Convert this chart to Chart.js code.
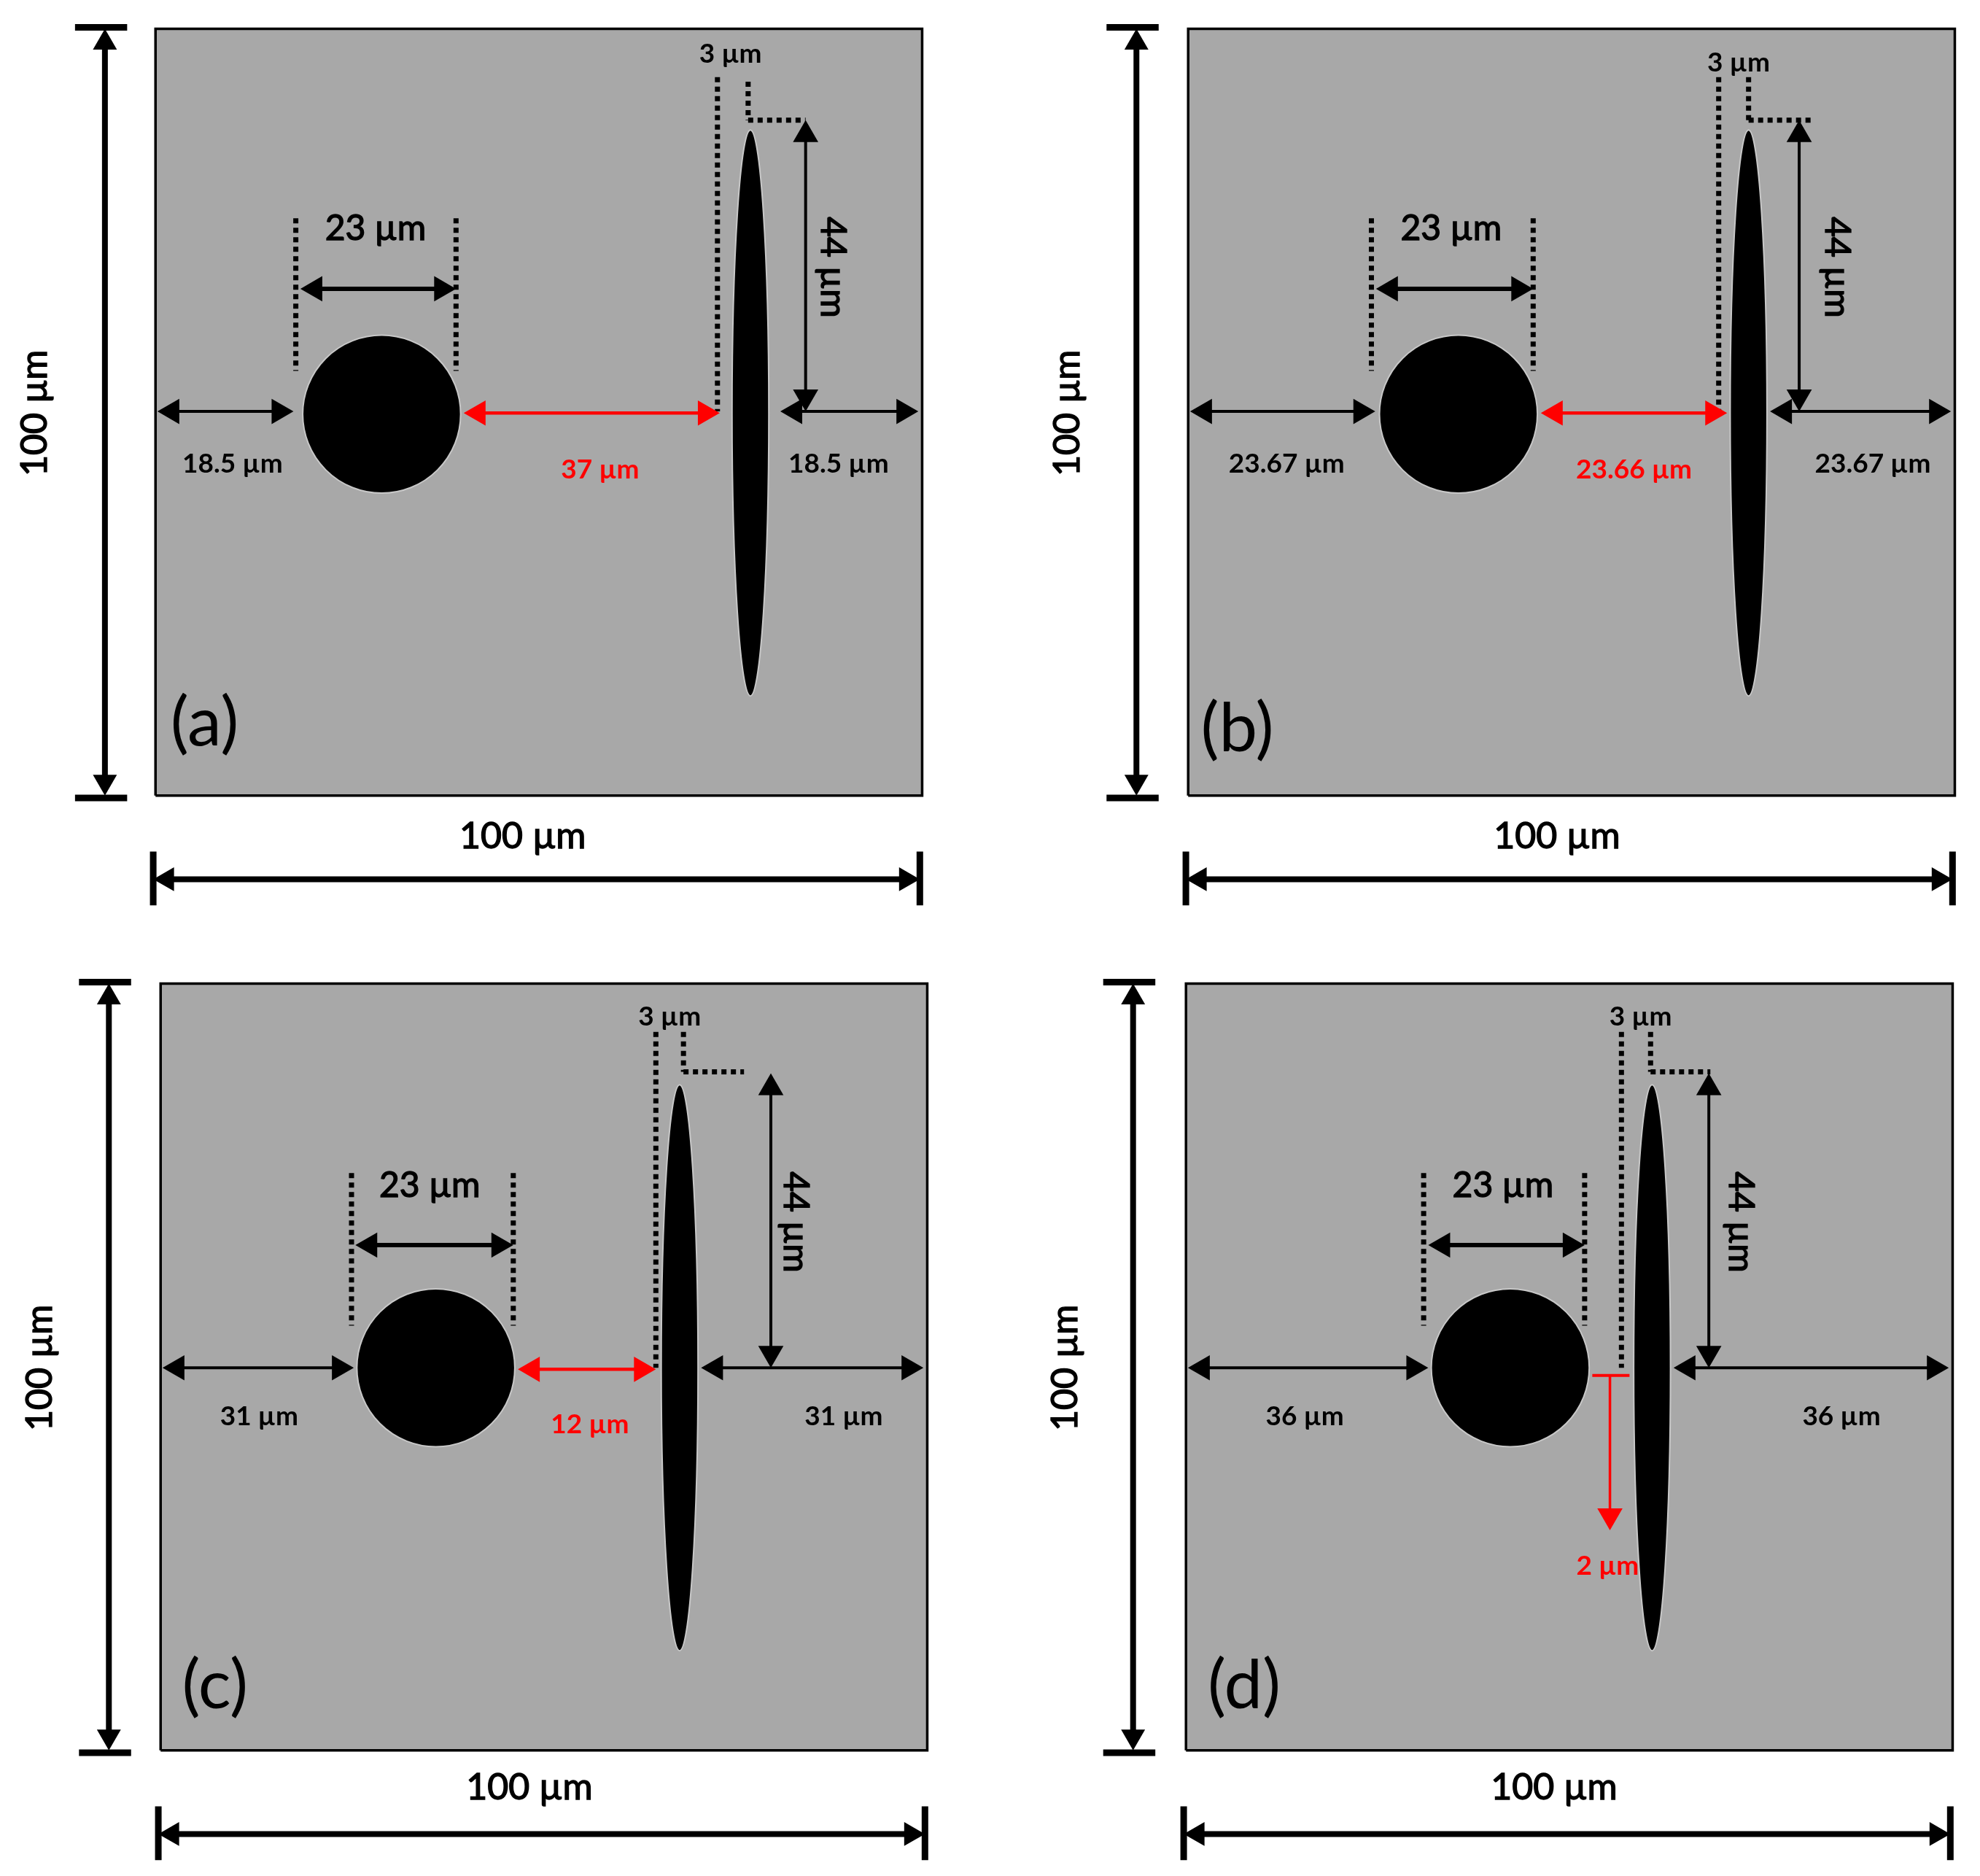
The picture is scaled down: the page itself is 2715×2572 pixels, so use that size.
<!DOCTYPE html>
<html>
<head>
<meta charset="utf-8">
<title>Panels</title>
<script src="https://cdn.jsdelivr.net/npm/chart.js@4/dist/chart.umd.min.js"></script>
<style>
html,body{margin:0;padding:0;background:#fff;overflow:hidden;width:2715px;height:2572px}
canvas{position:absolute}
</style>
</head>
<body>
<script>
// all values are micrometres inside each 100 x 100 panel, y counted up from the panel bottom
const panelNames=["(a)","(b)","(c)","(d)"];
const sideLength=[100,100,100,100];
const leftGapText=["18.5 µm","23.67 µm","31 µm","36 µm"];
const rightGapText=["18.5 µm","23.67 µm","31 µm","36 µm"];
const centreGapText=["37 µm","23.66 µm","12 µm","2 µm"];
const circleText=["23 µm","23 µm","23 µm","23 µm"];
const rodWidthText=["3 µm","3 µm","3 µm","3 µm"];
const rodHeightText=["44 µm","44 µm","44 µm","44 µm"];

const circleX=[29.5,35.25,35.9,42.3];
const circleY=[49.75,49.75,49.9,49.9];
const circleR=[10.3,10.3,10.3,10.3];
const rodX=[77.6,73.1,67.7,60.8];
const rodY=[49.9,49.9,49.9,49.9];
const rodHalfW=[2.4,2.4,2.4,2.4];
const rodHalfH=[36.9,36.9,36.9,36.9];

const leftGapEnd=[18,24.4,25.2,31.6];
const rightGapStart=[81.5,75.9,70.5,63.6];
const gapY=[50.1,50.1,49.9,49.9];
const centreGapStart=[40.2,46,46.6];
const centreGapEnd=[73.6,70.3,64.6];
const circleDimStart=[18.9,24.5,25.4,31.6];
const circleDimEnd=[39.2,45,46,52];
const circleDimY=[66.1,66.1,65.9,65.9];
const circleGuideA=[18.3,23.9,24.9,31];
const circleGuideB=[39.2,45,46,52];
const rodGuideA=[73.3,69.2,64.6,56.8];
const rodGuideB=[77.3,73.1,68.2,60.6];
const rodGuideBTop=[93.1,93.7,93.7,93.7];
const rodGuideEnd=[84.8,81.4,76.1,68.4];
const rodGuideY=[88.1,88.1,88.5,88.5];
const rodDimX=[84.8,79.7,79.6,68.2];
const rodDimTop=[88.1,88.1,88.3,88.3];
const vertDimX=[-6.6,-6.75,-6.75,-6.9];
const shiftGapX=[53,57.85];
const shiftGapY=48.9;
const shiftArrowX=55.3;
const shiftArrowEnd=28.7;

// label anchors
const leftTextX=[10.05,12.85,12.85,15.5];
const rightTextX=[89.1,89.3,89.1,85.5];
const gapTextY=[43.3,43.3,43.5,43.5];
const centreTextX=[58,58.15,56,55];
const centreTextY=[42.5,42.5,42.5,24];
const circleTextX=[28.7,34.3,35.1,41.35];
const circleTextY=[73.9,73.9,73.7,73.7];
const widthTextX=[75,71.8,66.4,59.3];
const widthTextY=[96.7,95.6,95.7,95.7];
const heightTextX=[88.3,84.6,82.8,72.3];
const nameTextX=[6.4,6.4,7.1,7.6];
const nameTextY=[9.4,8.7,8.4,8.4];
const bottomTextX=[47.9,48.1,48.1,48];
const bottomTextY=[-5.3,-5.3,-4.9,-4.9];

// page layout
const frameLeft=[213,1629,220,1626];
const frameTop=[40,40,1349,1349];
const pxPerUm=10.51;
const xRange=[-20,103],yRange=[-16,103];
const BLACK="#000000",RED="#ff0000",GREY="#a8a8a8",HALO="#c8c8c8";

function seg(x1,y1,x2,y2,color,width,extra){
  return Object.assign({data:[{x:x1,y:y1},{x:x2,y:y2}],showLine:true,borderColor:color,borderWidth:width,
    pointRadius:0,order:1},extra||{});
}
function arrow(x1,y1,x2,y2,color,width,headR,both){
  var len=Math.hypot(x2-x1,y2-y1),inset=headR/pxPerUm;
  var ux=(x2-x1)/len,uy=(y2-y1)/len;
  var ang=Math.atan2(ux,uy)*180/Math.PI;
  return seg(both?x1+ux*inset:x1,both?y1+uy*inset:y1,x2-ux*inset,y2-uy*inset,color,width,{
    pointStyle:"triangle",pointRadius:[both?headR:0,headR],pointRotation:[ang+180,ang],
    pointBackgroundColor:color,pointBorderColor:color,pointBorderWidth:0
  });
}
function dots(x1,y1,x2,y2){
  return seg(x1,y1,x2,y2,BLACK,7,{borderDash:[7,6],borderCapStyle:"butt"});
}

function panelDatasets(i){
  var s=sideLength[i],d=[],cy=gapY[i];
  d.push({data:[{x:0,y:s},{x:s,y:s}],showLine:true,borderWidth:0,pointRadius:0,fill:"origin",backgroundColor:GREY,order:9});
  d.push({data:[{x:0,y:0},{x:s,y:0},{x:s,y:s},{x:0,y:s},{x:0,y:0}],showLine:true,borderColor:BLACK,borderWidth:3.5,pointRadius:0,order:8});
  // outer 100 um dimensions
  d.push(arrow(vertDimX[i],0,vertDimX[i],s,BLACK,8,19,true));
  d.push(seg(vertDimX[i]-3.9,s+0.2,vertDimX[i]+2.9,s+0.2,BLACK,9));
  d.push(seg(vertDimX[i]-3.9,-0.3,vertDimX[i]+2.9,-0.3,BLACK,9));
  d.push(arrow(-0.3,-10.9,99.7,-10.9,BLACK,8,19,true));
  d.push(seg(-0.3,-7.3,-0.3,-14.3,BLACK,9));
  d.push(seg(99.7,-7.3,99.7,-14.3,BLACK,9));
  // gaps
  d.push(arrow(0.25,cy,leftGapEnd[i],cy,BLACK,4,20,true));
  d.push(arrow(rightGapStart[i],cy,99.5,cy,BLACK,4,20,true));
  if(i<3){
    d.push(arrow(centreGapStart[i],cy-0.2,centreGapEnd[i],cy-0.2,RED,4.5,20,true));
  }else{
    d.push(seg(shiftGapX[0],shiftGapY,shiftGapX[1],shiftGapY,RED,4));
    d.push(arrow(shiftArrowX,shiftGapY,shiftArrowX,shiftArrowEnd,RED,3.5,20,false));
  }
  // circle dimension
  d.push(arrow(circleDimStart[i],circleDimY[i],circleDimEnd[i],circleDimY[i],BLACK,6,20,true));
  d.push(dots(circleGuideA[i],75.3,circleGuideA[i],55.4));
  d.push(dots(circleGuideB[i],75.3,circleGuideB[i],55.4));
  // rod dimension
  d.push(arrow(rodDimX[i],cy,rodDimX[i],rodDimTop[i],BLACK,4,20,true));
  d.push(dots(rodGuideA[i],93.7,rodGuideA[i],cy));
  d.push(dots(rodGuideB[i],rodGuideBTop[i],rodGuideB[i],rodGuideY[i]));
  d.push(dots(rodGuideB[i],rodGuideY[i],rodGuideEnd[i],rodGuideY[i]));
  return d;
}

function panelPlugin(i){
  return {
    id:"panelDrawing"+i,
    afterDatasetsDraw:function(chart){
      var c=chart.ctx,sx=chart.scales.x,sy=chart.scales.y;
      function put(text,x,y,font,color,rot,thick){
        c.save();
        c.translate(sx.getPixelForValue(x),sy.getPixelForValue(y));
        if(rot)c.rotate(rot);
        c.font=font;c.fillStyle=color;c.textAlign="center";c.textBaseline="middle";
        c.fillText(text,0,0);
        if(thick){c.strokeStyle=color;c.lineWidth=thick;c.strokeText(text,0,0);}
        c.restore();
      }
      var big="50px Lato",mid="48px Lato",small="bold 37px Lato";
      put(circleText[i],circleTextX[i],circleTextY[i],mid,BLACK,0,1.4);
      put(sideLength[i]+" µm",bottomTextX[i],bottomTextY[i],big,BLACK,0,1.4);
      put(sideLength[i]+" µm",-15.7,49.9,big,BLACK,-Math.PI/2,1.4);
      put(rodHeightText[i],heightTextX[i],68.9,mid,BLACK,Math.PI/2,1.4);
      put(leftGapText[i],leftTextX[i],gapTextY[i],small,BLACK);
      put(rightGapText[i],rightTextX[i],gapTextY[i],small,BLACK);
      put(centreGapText[i],centreTextX[i],centreTextY[i],small,RED);
      put(rodWidthText[i],widthTextX[i],widthTextY[i],small,BLACK);
      put(panelNames[i],nameTextX[i],nameTextY[i],"94px Lato",BLACK);
      // circle and rod go on last, the rod covers the end of the 2 um label
      c.save();
      c.fillStyle=BLACK;c.strokeStyle=HALO;c.lineWidth=2;
      var kx=Math.abs(sx.getPixelForValue(1)-sx.getPixelForValue(0));
      var ky=Math.abs(sy.getPixelForValue(1)-sy.getPixelForValue(0));
      c.beginPath();
      c.ellipse(sx.getPixelForValue(circleX[i]),sy.getPixelForValue(circleY[i]),circleR[i]*kx,circleR[i]*ky,0,0,Math.PI*2);
      c.fill();c.stroke();
      c.beginPath();
      c.ellipse(sx.getPixelForValue(rodX[i]),sy.getPixelForValue(rodY[i]),rodHalfW[i]*kx,rodHalfH[i]*ky,0,0,Math.PI*2);
      c.fill();c.stroke();
      c.restore();
    }
  };
}

panelNames.forEach(function(name,i){
  var cv=document.createElement("canvas");
  var w=Math.round((xRange[1]-xRange[0])*pxPerUm),h=Math.round((yRange[1]-yRange[0])*pxPerUm);
  cv.width=w;cv.height=h;
  cv.style.width=w+"px";cv.style.height=h+"px";
  cv.style.left=Math.round(frameLeft[i]+xRange[0]*pxPerUm)+"px";
  cv.style.top=Math.round(frameTop[i]-(yRange[1]-100)*pxPerUm)+"px";
  document.body.appendChild(cv);
  new Chart(cv.getContext("2d"),{
    type:"scatter",
    data:{datasets:panelDatasets(i)},
    options:{
      responsive:false,
      animation:false,
      devicePixelRatio:1,
      layout:{padding:0,autoPadding:false},
      plugins:{legend:{display:false},tooltip:{enabled:false},title:{display:false}},
      scales:{
        x:{type:"linear",display:false,min:xRange[0],max:xRange[1]},
        y:{type:"linear",display:false,min:yRange[0],max:yRange[1]}
      }
    },
    plugins:[panelPlugin(i)]
  });
});
</script>
</body>
</html>
